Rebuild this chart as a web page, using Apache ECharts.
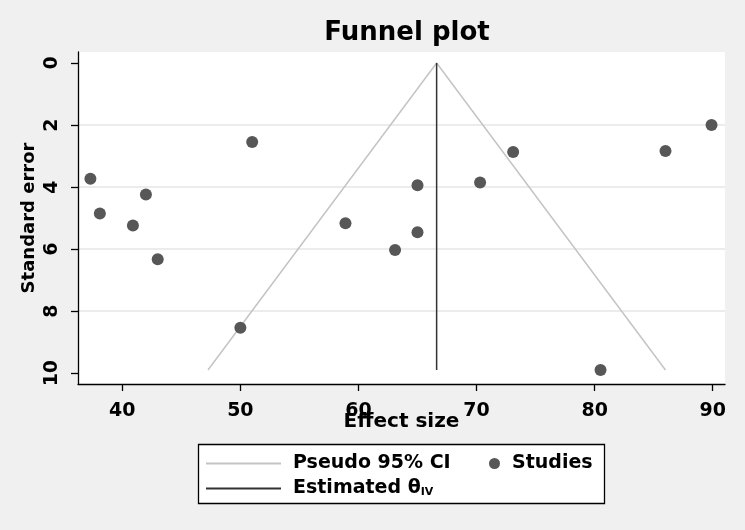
<!DOCTYPE html>
<html>
<head>
<meta charset="utf-8">
<title>Funnel plot</title>
<script src="https://cdn.jsdelivr.net/npm/echarts@6/dist/echarts.min.js"></script>
<style>
    html, body { margin: 0; padding: 0; background: #f0f0f0; }
    #funnel-chart { width: 745px; height: 530px; }
</style>
</head>
<body>
<div id="funnel-chart"></div>
<script>
// studies: effect size / standard error
var studyEffect = [37.3, 38.1, 40.9, 42.0, 43.0, 51.0, 50.0, 58.9, 63.1, 65.0, 65.0, 70.3, 73.1, 86.0, 89.9, 80.5];
var studySE     = [3.73, 4.85, 5.24, 4.24, 6.33, 2.55, 8.54, 5.17, 6.03, 3.94, 5.46, 3.85, 2.87, 2.84, 2.00, 9.90];

// pseudo 95% CI funnel and pooled estimate (endpoints)
var ciEffect = [47.26, 66.62, 86.0];
var ciSE     = [9.9, 0, 9.9];
var thetaEffect = [66.62, 66.62];
var thetaSE     = [0, 9.9];

var xTicks = [40, 50, 60, 70, 80, 90];
var yTicks = [0, 2, 4, 6, 8, 10];

function zip(a, b) {
    var out = [];
    for (var i = 0; i < a.length; i++) {
        out.push([a[i], b[i]]);
    }
    return out;
}

var chart = echarts.init(document.getElementById('funnel-chart'));
var font = 'DejaVu Sans';
var legendText = { fontFamily: font, fontWeight: 'bold', fontSize: 19, color: '#000', padding: [0, 0, 0, 7] };

var option = {
    backgroundColor: '#f0f0f0',
    animation: false,
    title: {
        text: 'Funnel plot',
        left: 402,
        textAlign: 'center',
        top: 15,
        textStyle: { fontFamily: font, fontWeight: 'bold', fontSize: 26, color: '#000' }
    },
    grid: {
        left: 78, right: 20, top: 52, bottom: 146,
        show: true, backgroundColor: '#fff', borderWidth: 0
    },
    xAxis: {
        type: 'value',
        min: 36.25,
        max: 91.04,
        name: 'Effect size',
        nameLocation: 'middle',
        nameGap: 28,
        nameMoveOverlap: false,
        nameTextStyle: { fontFamily: font, fontWeight: 'bold', fontSize: 20, color: '#000' },
        axisLine: { show: true, onZero: false, lineStyle: { color: '#000', width: 1.3 } },
        axisTick: { show: true, length: 7, customValues: xTicks, lineStyle: { color: '#000', width: 1.3 } },
        axisLabel: {
            customValues: xTicks, margin: 18,
            fontFamily: font, fontWeight: 'bold', fontSize: 19, color: '#000'
        },
        splitLine: { show: false }
    },
    yAxis: {
        type: 'value',
        inverse: true,
        min: -0.355,
        max: 10.35,
        name: 'Standard error',
        nameLocation: 'middle',
        nameGap: 40,
        nameMoveOverlap: false,
        nameTextStyle: { fontFamily: font, fontWeight: 'bold', fontSize: 18, color: '#000' },
        axisLine: { show: true, onZero: false, lineStyle: { color: '#000', width: 1.3 } },
        axisTick: { show: true, length: 7, customValues: yTicks, lineStyle: { color: '#000', width: 1.3 } },
        axisLabel: {
            customValues: yTicks, rotate: 90, margin: 16,
            fontFamily: font, fontWeight: 'bold', fontSize: 19, color: '#000'
        },
        splitLine: {
            show: true, showMinLine: false, showMaxLine: false,
            lineStyle: { color: '#e6e6e6', width: 1.5 }
        }
    },
    legend: [{
        data: [{ name: 'Pseudo 95% CI', icon: 'rect' }],
        left: 201, top: 449,
        itemWidth: 75, itemHeight: 2,
        textStyle: legendText
    }, {
        data: ['Studies'],
        left: 484, top: 449,
        itemWidth: 11, itemHeight: 11,
        textStyle: legendText
    }, {
        data: [{ name: 'Estimated θIV', icon: 'rect' }],
        left: 201, top: 474,
        itemWidth: 75, itemHeight: 2,
        formatter: function() {
            return '{a|Estimated θ}{s|IV}';
        },
        textStyle: {
            padding: [0, 0, 0, 7],
            rich: {
                a: { fontFamily: font, fontWeight: 'bold', fontSize: 19, color: '#000' },
                s: { fontFamily: font, fontWeight: 'bold', fontSize: 11, color: '#000', verticalAlign: 'bottom', padding: [7, 0, 0, 0] }
            }
        }
    }],
    graphic: [{
        type: 'rect',
        z: 1,
        shape: { x: 198.5, y: 444.5, width: 406, height: 59 },
        style: { fill: '#fff', stroke: '#000', lineWidth: 1.3 }
    }],
    series: [{
        name: 'Pseudo 95% CI',
        type: 'line',
        symbol: 'none',
        data: zip(ciEffect, ciSE),
        lineStyle: { color: '#c4c4c4', width: 1.5 },
        itemStyle: { color: '#c4c4c4' },
        z: 2
    }, {
        name: 'Estimated θIV',
        type: 'line',
        symbol: 'none',
        data: zip(thetaEffect, thetaSE),
        lineStyle: { color: '#333', width: 1.5 },
        itemStyle: { color: '#333' },
        z: 3
    }, {
        name: 'Studies',
        type: 'scatter',
        symbol: 'circle',
        symbolSize: 12,
        data: zip(studyEffect, studySE),
        itemStyle: { color: '#575757', opacity: 1 },
        z: 4
    }]
};

chart.setOption(option);
</script>
</body>
</html>
